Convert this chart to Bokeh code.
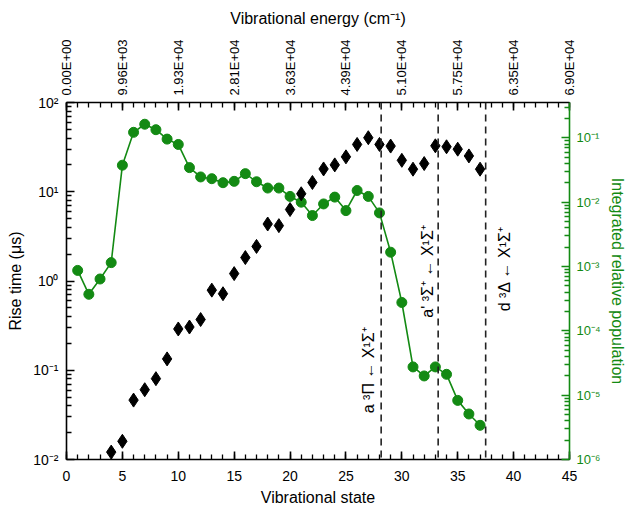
import math
from bokeh.plotting import figure
from bokeh.models import (Range1d, LogAxis, LinearAxis, FixedTicker, CustomJSTickFormatter,
                          Span, ColumnDataSource, LogScale)
from bokeh.core.properties import value
from bokeh.embed import file_html
from bokeh.resources import INLINE

# ---------------- data ----------------
rise_state = list(range(4, 38))
rise_time = [0.0121, 0.0160, 0.0463, 0.0605, 0.0805, 0.134, 0.290, 0.305, 0.370,
             0.79, 0.72, 1.21, 1.83, 2.44, 4.35, 4.17, 6.32, 9.49, 12.7, 18.0,
             20.0, 24.6, 33.9, 40.3, 33.9, 32.5, 22.5, 17.9, 20.7, 32.7, 31.9,
             30.0, 25.2, 17.9]

pop_state = list(range(1, 38))
population = [8.7e-4, 3.7e-4, 6.4e-4, 1.15e-3, 0.0376, 0.122, 0.163, 0.134, 0.0957,
              0.079, 0.0345, 0.0247, 0.0232, 0.0201, 0.0211, 0.0278, 0.0208, 0.0166,
              0.0166, 0.0123, 0.0100, 0.0062, 0.0094, 0.0120, 0.0074, 0.0152, 0.0123,
              0.00682, 1.67e-3, 2.76e-4, 2.75e-5, 1.99e-5, 2.75e-5, 2.11e-5, 8.3e-6,
              5.1e-6, 3.4e-6]

x_ticks = [0, 5, 10, 15, 20, 25, 30, 35, 40, 45]
energy_labels = ["0.00E+00", "9.96E+03", "1.93E+04", "2.81E+04", "3.63E+04",
                 "4.39E+04", "5.10E+04", "5.75E+04", "6.35E+04", "6.90E+04"]

transition_x = [28.15, 33.25, 37.5]
transition_labels = ["a \u00b3\u03a0 \u2190 X\u00b9\u03a3\u207a",
                     "a' \u00b3\u03a3\u207a \u2190 X\u00b9\u03a3\u207a",
                     "d \u00b3\u0394 \u2190 X\u00b9\u03a3\u207a"]
label_x = [27.0, 32.3, 39.2]
label_y = [0.1, 1.28, 1.37]

GREEN = "#138a13"
FONT = "Liberation Sans"

# ---------------- figure ----------------
p = figure(width=628, height=521, output_backend="svg", toolbar_location=None,
           x_range=Range1d(0, 45), y_range=Range1d(0.01, 100), y_axis_type="log",
           min_border_left=66, min_border_right=56, min_border_top=102,
           min_border_bottom=62, x_axis_label="Vibrational state",
           y_axis_label="Rise time (\u03bcs)")
p.outline_line_color = None
p.xgrid.visible = False
p.ygrid.visible = False
p.background_fill_color = "white"
p.border_fill_color = "white"

p.extra_y_ranges = {"pop": Range1d(1e-6, 10 ** -0.45)}
p.extra_y_scales = {"pop": LogScale()}

sup_code = """
const sup = {'-':'\u207b','0':'\u2070','1':'\u00b9','2':'\u00b2','3':'\u00b3','4':'\u2074',
             '5':'\u2075','6':'\u2076','7':'\u2077','8':'\u2078','9':'\u2079'};
const e = Math.round(Math.log10(tick));
return '10' + String(e).split('').map(c => sup[c]).join('');
"""

def style_axis(ax, color="black"):
    ax.axis_line_color = color
    ax.axis_line_width = 1.6
    ax.major_tick_line_color = color
    ax.minor_tick_line_color = color
    ax.major_tick_line_width = 1.6
    ax.minor_tick_line_width = 1.3
    ax.major_tick_in = 8
    ax.major_tick_out = 0
    ax.minor_tick_in = 5
    ax.minor_tick_out = 0
    ax.major_label_text_color = color
    ax.axis_label_text_color = color
    ax.major_label_text_font = FONT
    ax.axis_label_text_font = FONT
    ax.axis_label_text_font_style = "normal"
    ax.major_label_text_font_size = "14px"
    ax.axis_label_text_font_size = "16px"

minor_x = list(range(0, 46))
log_major = [1e-2, 1e-1, 1, 10, 100]
log_minor = [m * 10 ** e for e in range(-2, 2) for m in range(2, 10)]

# bottom
xa = p.xaxis[0]
xa.ticker = FixedTicker(ticks=x_ticks, minor_ticks=minor_x)
style_axis(xa)
xa.major_label_standoff = 11
xa.axis_label_standoff = 5

# left
ya = p.yaxis[0]
ya.ticker = FixedTicker(ticks=log_major, minor_ticks=log_minor)
ya.formatter = CustomJSTickFormatter(code=sup_code)
style_axis(ya)
ya.major_label_standoff = 8
ya.axis_label_standoff = 6

# top
top = LinearAxis(ticker=FixedTicker(ticks=x_ticks, minor_ticks=minor_x),
                 major_label_overrides={t: s for t, s in zip(x_ticks, energy_labels)},
                 axis_label="Vibrational energy (cm\u207b\u00b9)")
style_axis(top)
top.major_label_orientation = math.pi / 2
top.major_label_text_font_size = "13px"
top.major_label_standoff = 7
top.axis_label_standoff = 9
p.add_layout(top, "above")

# right
pop_major = [1e-6, 1e-5, 1e-4, 1e-3, 1e-2, 1e-1]
pop_minor = [m * 10 ** e for e in range(-6, 0) for m in range(2, 10)]
right = LogAxis(y_range_name="pop", ticker=FixedTicker(ticks=pop_major, minor_ticks=pop_minor),
                formatter=CustomJSTickFormatter(code=sup_code),
                axis_label="Integrated relative population")
style_axis(right, GREEN)
right.major_label_text_font_size = "13px"
right.major_label_standoff = 7
right.axis_label_standoff = 5
p.add_layout(right, "right")

# ---------------- glyphs ----------------
for xv in transition_x:
    p.add_layout(Span(location=xv, dimension="height", line_color="#222222",
                      line_width=1.6, line_dash="7 5"))

src_pop = ColumnDataSource(dict(x=pop_state, y=population))
p.line("x", "y", source=src_pop, y_range_name="pop", line_color=GREEN, line_width=1.6)
p.scatter("x", "y", source=src_pop, y_range_name="pop", marker="circle", size=10,
          fill_color=GREEN, line_color=GREEN)

src_rise = ColumnDataSource(dict(x=rise_state, y=rise_time))
p.scatter("x", "y", source=src_rise, marker="diamond", size=14,
          fill_color="black", line_color="black")

src_lab = ColumnDataSource(dict(x=label_x, y=label_y, t=transition_labels))
p.text("x", "y", text="t", source=src_lab, angle=math.pi / 2, text_align="center",
       text_baseline="middle", text_font=value(FONT), text_font_size="16px",
       text_color="black")

open("out.html", "w").write(file_html(p, INLINE))
